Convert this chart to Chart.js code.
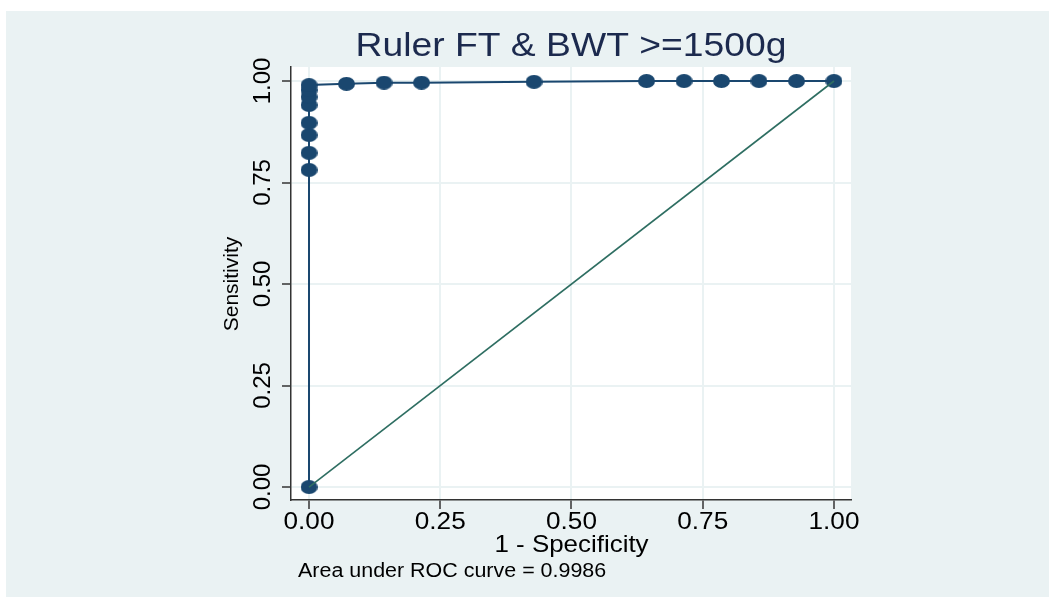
<!DOCTYPE html>
<html>
<head>
<meta charset="utf-8">
<title>Ruler FT &amp; BWT >=1500g</title>
<script src="https://cdn.jsdelivr.net/npm/chart.js@4"></script>
<style>
  html, body { margin: 0; padding: 0; background: #ffffff; }
  #wrap { width: 1049px; height: 597px; }
</style>
</head>
<body>
<div id="wrap"><canvas id="roc" width="1049" height="597"></canvas></div>
<script>
// ROC points: 1 - specificity vs sensitivity
const specComp = [0, 0, 0, 0, 0, 0, 0, 0, 0, 0.0714, 0.1429, 0.2143, 0.4286, 0.6429, 0.7143, 0.7857, 0.8571, 0.9286, 1];
const sensitivity = [0, 0.781, 0.823, 0.867, 0.897, 0.941, 0.961, 0.978, 0.990, 0.993, 0.996, 0.996, 0.998, 1, 1, 1, 1, 1, 1];
const refX = [0, 1];
const refY = [0, 1];
const tickVals = [0, 0.25, 0.5, 0.75, 1];

const chartTitle = 'Ruler FT & BWT >=1500g';
const xTitle = '1 - Specificity';
const yTitle = 'Sensitivity';
const note = 'Area under ROC curve = 0.9986';

const FONT = '"Liberation Sans", Arial, sans-serif';
const NAVY = '#1a476f';

// slightly wide oval marker, like the stretched Stata circles
function ovalMarker(w, h, color) {
    const c = document.createElement('canvas');
    c.width = w; c.height = h;
    const g = c.getContext('2d');
    g.fillStyle = color;
    g.beginPath();
    g.ellipse(w / 2, h / 2, w / 2, h / 2, 0, 0, Math.PI * 2);
    g.fill();
    return c;
}

// text a bit wider than the font, the source picture is stretched sideways
function wideText(ctx, txt, x, y, sx) {
    ctx.save();
    ctx.translate(x, y);
    ctx.scale(sx, 1);
    ctx.fillText(txt, 0, 0);
    ctx.restore();
}

const frame = {
    id: 'frame',
    beforeDraw(chart) {
        const { ctx, chartArea: a } = chart;
        ctx.save();
        ctx.fillStyle = '#ffffff';
        ctx.fillRect(0, 0, chart.width, chart.height);
        ctx.fillStyle = '#eaf2f3';
        ctx.fillRect(6, 11, chart.width - 6, chart.height - 11);
        ctx.fillStyle = '#ffffff';
        ctx.fillRect(a.left, a.top, a.right - a.left, a.bottom - a.top);
        ctx.restore();
    },
    afterDraw(chart) {
        const { ctx, chartArea: a } = chart;
        const xs = chart.scales.x, ys = chart.scales.y;
        ctx.save();
        ctx.fillStyle = '#000000';
        ctx.textAlign = 'center';
        ctx.textBaseline = 'middle';

        // x tick labels
        ctx.font = '24px ' + FONT;
        xs.ticks.forEach(t => {
            wideText(ctx, t.value.toFixed(2), xs.getPixelForValue(t.value), 522, 1.09);
        });
        // y tick labels, rotated
        ys.ticks.forEach(t => {
            ctx.save();
            ctx.translate(263, ys.getPixelForValue(t.value));
            ctx.rotate(-Math.PI / 2);
            ctx.fillText(t.value.toFixed(2), 0, 0);
            ctx.restore();
        });

        // axis titles
        ctx.font = '24px ' + FONT;
        wideText(ctx, xTitle, (xs.getPixelForValue(0) + xs.getPixelForValue(1)) / 2, 545, 1.08);
        ctx.font = '21px ' + FONT;
        ctx.save();
        ctx.translate(232, (ys.getPixelForValue(0) + ys.getPixelForValue(1)) / 2);
        ctx.rotate(-Math.PI / 2);
        ctx.fillText(yTitle, 0, 0);
        ctx.restore();

        // title
        ctx.fillStyle = '#1c2a4e';
        ctx.font = '33px ' + FONT;
        wideText(ctx, chartTitle, (a.left + a.right) / 2, 47, 1.13);

        // note
        ctx.fillStyle = '#000000';
        ctx.textAlign = 'left';
        ctx.font = '19.5px ' + FONT;
        wideText(ctx, note, 298, 572, 1.1);
        ctx.restore();
    }
};

const axisCommon = {
    type: 'linear',
    afterBuildTicks(scale) {
        scale.ticks = tickVals.map(v => ({ value: v }));
    },
    ticks: { display: false },
    grid: {
        color: '#eaf2f3',
        lineWidth: 2,
        tickColor: '#333333',
        tickWidth: 1.5,
        tickLength: 9
    },
    border: { color: '#333333', width: 1.5 }
};

new Chart(document.getElementById('roc'), {
    type: 'scatter',
    data: {
        datasets: [
            {
                label: 'Reference',
                data: refX.map((x, i) => ({ x: x, y: refY[i] })),
                showLine: true,
                borderColor: '#2e6e62',
                borderWidth: 1.6,
                pointRadius: 0
            },
            {
                label: 'ROC',
                data: specComp.map((x, i) => ({ x: x, y: sensitivity[i] })),
                showLine: true,
                borderColor: NAVY,
                borderWidth: 2,
                backgroundColor: NAVY,
                pointStyle: ovalMarker(17, 14, NAVY),
                pointRadius: 8
            }
        ]
    },
    options: {
        responsive: false,
        animation: false,
        layout: { padding: { left: 251, right: 198, top: 67, bottom: 57 } },
        plugins: {
            legend: { display: false },
            tooltip: { enabled: false }
        },
        scales: {
            x: Object.assign({}, axisCommon, {
                min: -0.0343, max: 1.0324,
                afterFit(scale) { scale.height = 40; }
            }),
            y: Object.assign({}, axisCommon, {
                min: -0.032, max: 1.0345,
                afterFit(scale) { scale.width = 40; }
            })
        }
    },
    plugins: [frame]
});
</script>
</body>
</html>
